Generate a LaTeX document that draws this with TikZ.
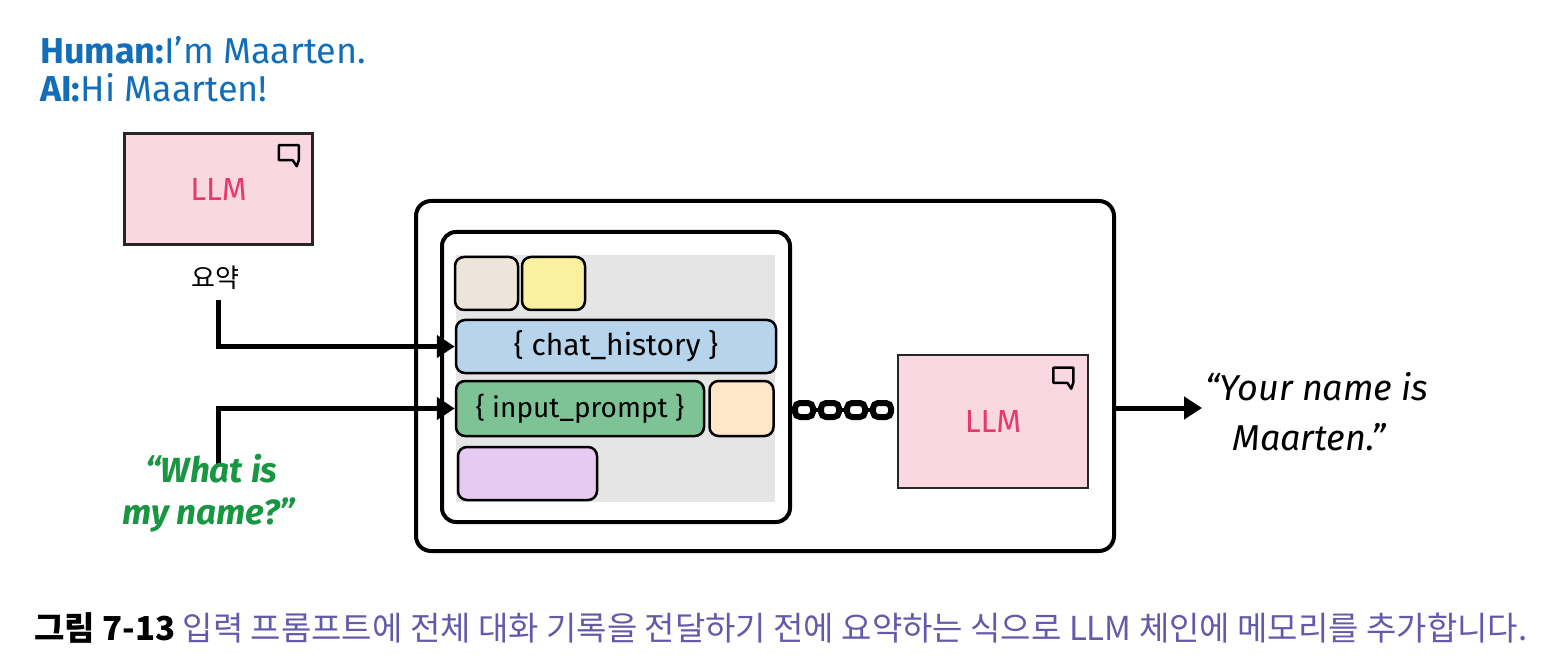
\documentclass[tikz,border=0pt]{standalone}
\usepackage{fontspec}
\setmainfont{Fira Sans}
\newfontfamily\kr{Noto Sans CJK KR}
\begin{document}
\begin{tikzpicture}[x=1pt,y=-1pt,
  llmbox/.style={draw=black!85,line width=2.5pt,fill=llmpink},
  pill/.style={draw=black,line width=2.5pt,rounded corners=9pt},
  arr/.style={line width=5pt,-{Triangle[length=18pt,width=22pt]}},
  llmtxt/.style={text=llmred,font=\fontsize{32}{34}\selectfont}]
\definecolor{llmpink}{RGB}{249,216,226}
\definecolor{llmred}{RGB}{228,58,110}
\definecolor{hblue}{RGB}{18,110,185}
\definecolor{qgreen}{RGB}{25,150,65}
\definecolor{cap}{RGB}{100,90,170}
\usetikzlibrary{arrows.meta}
\useasboundingbox (0,0) rectangle (1556,660);
% header
\node[anchor=base west,inner sep=0,text=hblue,font=\fontsize{36}{38}\selectfont] (h1) at (40,64) {\textbf{Human:}I'm Maarten.};
\node[anchor=base west,inner sep=0,text=hblue,font=\fontsize{36}{38}\selectfont] (h2) at (40,102) {\textbf{AI:}Hi Maarten!};
% small LLM
\node[llmbox,minimum width=188pt,minimum height=111pt] (l1) at (218.5,189) {};
\node[llmtxt] at (l1) {LLM};
\draw[line width=2.5pt,line join=round] ([shift={(-35,13)}]l1.north east) -- ++(20,0) -- ++(0,15) -- ++(-2,6) -- ++(-4,-6) -- ++(-14,0) -- cycle;
\node[font=\kr\fontsize{26}{28}\selectfont,inner sep=0] (sum) at (215,278) {요약};
% outer boxes
\node[draw,line width=4pt,rounded corners=15pt,minimum width=698pt,minimum height=350pt] (outer) at (765,376) {};
\node[draw,line width=4pt,rounded corners=14pt,minimum width=348pt,minimum height=290pt] (inner) at (616,377) {};
\fill[black!10] (456,255) rectangle (775,502);
\node[pill,fill={rgb,255:red,237;green,228;blue,220},minimum width=63pt,minimum height=53pt] (p1) at (486.5,283.5) {};
\node[pill,fill={rgb,255:red,250;green,240;blue,160},minimum width=63pt,minimum height=53pt] (p2) at (553.5,283.5) {};
\node[pill,fill={rgb,255:red,182;green,212;blue,235},minimum width=320pt,minimum height=53pt,font=\fontsize{30}{32}\selectfont] (ch) at (616,346.5) {\{ chat\_history \}};
\node[pill,fill={rgb,255:red,125;green,195;blue,150},minimum width=248pt,minimum height=55pt,font=\fontsize{28}{30}\selectfont] (ip) at (580,408.5) {\{ input\_prompt \}};
\node[pill,fill={rgb,255:red,255;green,230;blue,200},minimum width=64pt,minimum height=55pt] (po) at (741.5,408.5) {};
\node[pill,fill={rgb,255:red,230;green,202;blue,242},minimum width=139pt,minimum height=53pt] (pp) at (527.5,473.5) {};
% arrows
\coordinate (s1) at (218,300);
\coordinate (s2) at (218,465);
\draw[arr] (s1) |- (ch.west);
\draw[arr] (s2) |- (ip.west);
% big LLM
\node[llmbox,minimum width=190pt,minimum height=133pt] (l2) at (993,421.5) {};
\node[llmtxt] at (l2) {LLM};
\draw[line width=2.5pt,line join=round] ([shift={(-36,14)}]l2.north east) -- ++(20,0) -- ++(0,15) -- ++(-2,6) -- ++(-4,-6) -- ++(-14,0) -- cycle;
% chain
\foreach \cx in {804,830,856,882}{
  \draw[line width=6pt,rounded corners=5pt] (\cx-9,403) rectangle (\cx+9,417);}
\foreach \cx in {817,843,869}{
  \draw[line width=4pt] (\cx-5,410) -- (\cx+5,410);}
% output
\draw[arr] (outer.east |- 0,408) -- (1202,408);
\node[anchor=base west,inner sep=0,font=\itshape\fontsize{36}{38}\selectfont] (out1) at (1205,400) {“Your name is};
\node[anchor=base west,inner sep=0,font=\itshape\fontsize{36}{38}\selectfont] (out2) at (1232,450) {Maarten.”};
\node[anchor=base west,inner sep=0,text=qgreen,font=\bfseries\itshape\fontsize{35}{37}\selectfont] (q1) at (145,482) {“What is};
\node[anchor=base west,inner sep=0,text=qgreen,font=\bfseries\itshape\fontsize{35}{37}\selectfont] (q2) at (122,524) {my name?”};
% caption
\node[anchor=base west,inner sep=0,font=\kr\fontsize{33}{35}\selectfont] (capt) at (34,640) {\textbf{그림 7-13} \textcolor{cap}{입력 프롬프트에 전체 대화 기록을 전달하기 전에 요약하는 식으로 LLM 체인에 메모리를 추가합니다.}};
\end{tikzpicture}
\end{document}
